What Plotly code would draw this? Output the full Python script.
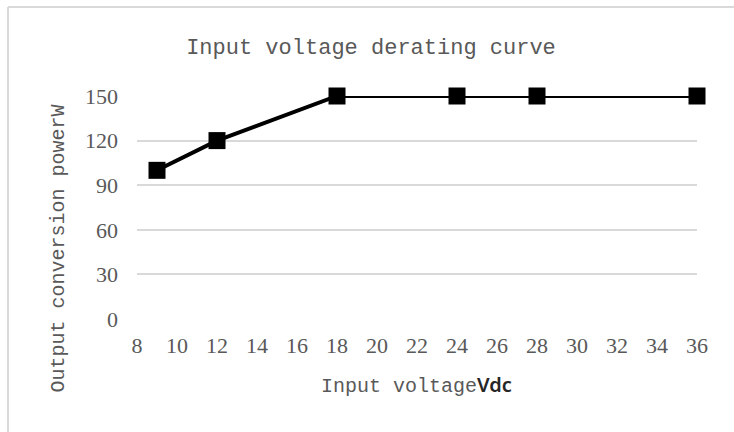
import plotly.graph_objects as go

# Data
input_voltage = [9, 12, 18, 24, 28, 36]
output_power = [100, 120, 150, 150, 150, 150]
x_ticks = list(range(8, 37, 2))
y_ticks = [0, 30, 60, 90, 120, 150]

title_text = "Input voltage derating curve"
x_title = "Input voltage"
x_unit = "Vdc"
y_title = "Output conversion powerW"

TEXT_FONT = "Liberation Mono"
TICK_FONT = "Liberation Serif"
GRAY = "#595959"

W, H = 734, 432
L, R, T, B = 137, 37, 96, 113
pw, ph = W - L - R, H - T - B


def px_x(x):
    return (x - L) / pw


def px_y(y):
    return (H - B - y) / ph


fig = go.Figure()
fig.add_trace(go.Scatter(
    x=input_voltage, y=output_power,
    mode="lines+markers",
    line=dict(color="black", width=4),
    marker=dict(symbol="square", size=17, color="black"),
    cliponaxis=False,
    showlegend=False,
))

border = dict(color="#d9d9d9", width=2)
fig.update_layout(
    width=W, height=H,
    margin=dict(l=L, r=R, t=T, b=B, pad=0),
    paper_bgcolor="white", plot_bgcolor="white",
    title=dict(text=title_text, x=371 / W, xanchor="center",
               y=1 - 46 / H, yanchor="middle", yref="container",
               font=dict(family=TEXT_FONT, size=22, color=GRAY)),
    xaxis=dict(range=[8, 36], tickvals=x_ticks, ticktext=[str(v) for v in x_ticks],
               showgrid=False, zeroline=False, showline=False,
               ticks="", ticklabelstandoff=11,
               tickfont=dict(family=TICK_FONT, size=22, color=GRAY)),
    yaxis=dict(range=[0, 150], tickvals=y_ticks, ticktext=[str(v) for v in y_ticks],
               showgrid=True, gridcolor="#d9d9d9", gridwidth=1.5,
               zeroline=False, showline=False,
               ticks="", ticklabelstandoff=18,
               tickfont=dict(family=TICK_FONT, size=22, color=GRAY)),
    shapes=[
        dict(type="line", xref="paper", yref="paper",
             x0=px_x(8), x1=px_x(8), y0=px_y(7), y1=px_y(500),
             line=border, layer="below"),
        dict(type="line", xref="paper", yref="paper",
             x0=px_x(8), x1=px_x(800), y0=px_y(7), y1=px_y(7),
             line=border, layer="below"),
    ],
    annotations=[
        dict(text=x_title + "<span style=\"font-family:'Noto Sans';font-weight:600;color:#262626\">"
             + x_unit + "</span>",
             xref="paper", yref="paper", x=px_x(416), y=px_y(384),
             xanchor="center", yanchor="middle", showarrow=False,
             font=dict(family=TEXT_FONT, size=20, color=GRAY)),
        dict(text=y_title, xref="paper", yref="paper", x=px_x(58), y=px_y(248.5),
             xanchor="center", yanchor="middle", showarrow=False, textangle=-90,
             font=dict(family=TEXT_FONT, size=20, color=GRAY)),
    ],
)

fig.write_html(
    "out.html",
    config={"displayModeBar": False},
    post_script="document.body.style.margin='0';document.body.style.overflow='hidden';",
)
